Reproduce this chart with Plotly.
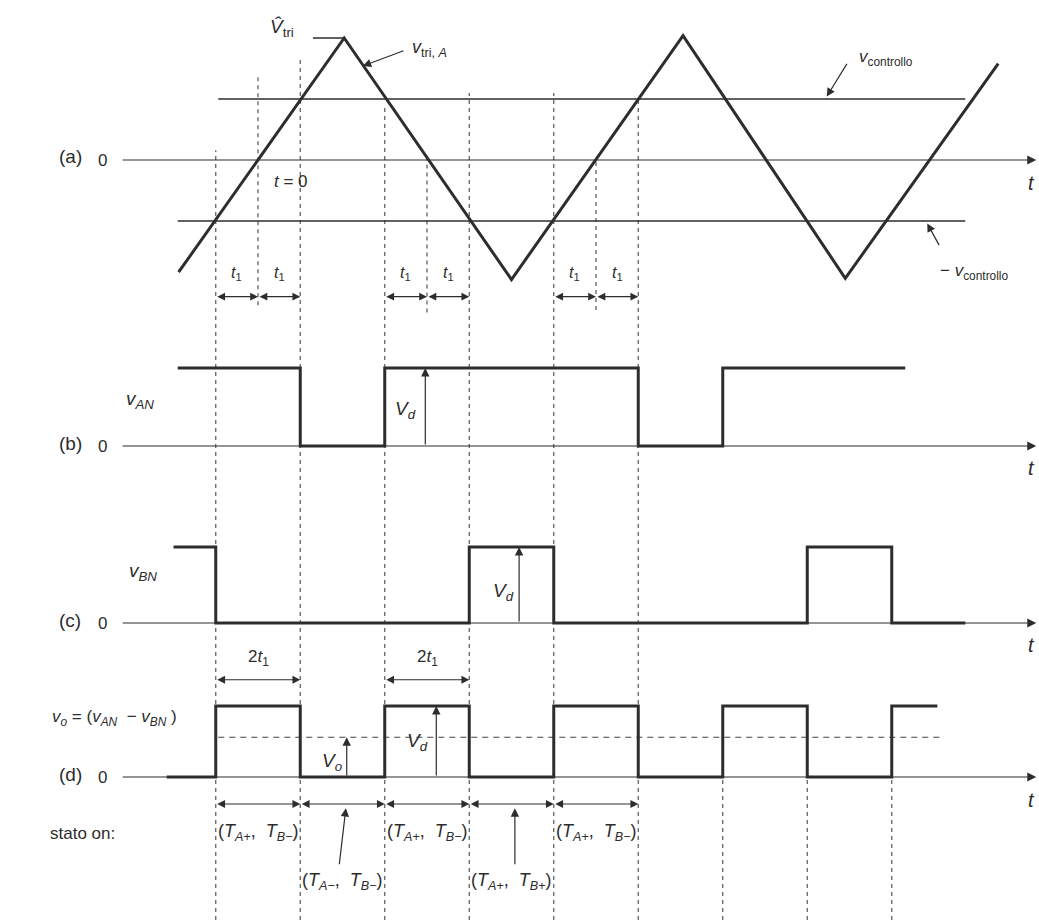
import plotly.graph_objects as go

# ---------------------------------------------------------------------------
# Data: time measured in quarter-periods of the triangular carrier (t = 0 at
# the rising zero crossing); voltages normalised to V_tri (a) and V_d (b-d).
# ---------------------------------------------------------------------------
tri_t = [-0.94, 1.02, 3.0, 5.03, 6.95, 8.76]
tri_v = [-0.92, 1.0, -0.98, 1.02, -0.97, 0.79]
v_control = 0.5
control_t = [-0.47, 8.37]          # span of +v_controllo line
neg_control_t = [-0.95, 8.37]      # span of -v_controllo line
vtri_peak_t = [0.65, 1.02]         # short marker at the peak value

t1 = 0.5
switch_t = [-0.5, 0.5, 1.5, 2.5, 3.5, 4.5, 5.5, 6.5, 7.5]

van_edges = [-0.95, 0.5, 1.5, 4.5, 5.5, 7.66]
van_levels = [1, 0, 1, 0, 1]
vbn_edges = [-1.0, -0.5, 2.5, 3.5, 6.5, 7.5, 8.37]
vbn_levels = [1, 0, 1, 0, 1, 0]
vo_edges = [-1.08, -0.5, 0.5, 1.5, 2.5, 3.5, 4.5, 5.5, 6.5, 7.5, 8.04]
vo_levels = [0, 1, 0, 1, 0, 1, 0, 1, 0, 1]
vo_mean = 0.56
vo_mean_t = [-0.47, 8.1]

state_upper = ["(<i>T</i><sub><i>A</i>+</sub>,  <i>T</i><sub><i>B</i>−</sub>)"] * 3
state_upper_t = [0.0, 2.0, 4.0]
state_lower = ["(<i>T</i><sub><i>A</i>−</sub>,  <i>T</i><sub><i>B</i>−</sub>)",
               "(<i>T</i><sub><i>A</i>+</sub>,  <i>T</i><sub><i>B</i>+</sub>)"]
state_lower_t = [1.0, 3.0]

# ---------------------------------------------------------------------------
# Layout geometry: four stacked panels sharing one time axis
# ---------------------------------------------------------------------------
W, H = 1039, 920
X_RANGE = [-258 / 84.5, (W - 258) / 84.5]
# (top px, bottom px, zero px, px per unit)
PANELS = {
    "y":  (0, 330, 160, 122),
    "y2": (330, 500, 446, 78),
    "y3": (500, 655, 623, 76),
    "y4": (655, 920, 777, 71),
}

def axis_cfg(key):
    top, bot, zero, unit = PANELS[key]
    return dict(domain=[1 - bot / H, 1 - top / H],
                range=[(zero - bot) / unit, (zero - top) / unit],
                visible=False, fixedrange=True, anchor="x")

def paper_y(key, value):
    top, bot, zero, unit = PANELS[key]
    return 1 - (zero - value * unit) / H

INK = "#2d2d2d"
FONT = "Liberation Sans, Arial, sans-serif"

fig = go.Figure()

def line(x, y, yaxis, width=1.3, color=INK, dash=None, shape="linear"):
    fig.add_trace(go.Scatter(x=x, y=y, xaxis="x", yaxis=yaxis, mode="lines",
                             line=dict(color=color, width=width, dash=dash, shape=shape),
                             hoverinfo="skip", showlegend=False))

def step(edges, levels, yaxis):
    line(edges, list(levels) + [levels[-1]], yaxis, width=3.0, shape="hv")

def arrow(x0, y0, x1, y1, yaxis, both=False, width=1.2, size=1.3):
    fig.add_annotation(x=x1, y=y1, ax=x0, ay=y0, xref="x", yref=yaxis,
                       axref="x", ayref=yaxis, text="", showarrow=True,
                       arrowhead=2, arrowsize=size, arrowwidth=width,
                       arrowcolor=INK, arrowside="end+start" if both else "end",
                       standoff=0, startstandoff=0)

def label(x, y, text, yaxis, size=16, xanchor="center"):
    fig.add_annotation(x=x, y=y, xref="x", yref=yaxis, text=text, showarrow=False,
                       font=dict(family=FONT, size=size, color=INK), xanchor=xanchor)

# ----- dashed switching instants (drawn first, underneath) -----
dash_lines = [
    (-0.5, ("y", 0.08), None), (0.0, ("y", 0.69), ("y", -1.19)),
    (0.5, ("y", 0.84), None), (1.5, ("y", 0.43), None),
    (2.0, ("y", 0.02), ("y", -1.25)), (2.5, ("y", 0.55), None),
    (3.5, ("y", 0.55), None), (4.0, ("y", 0.0), ("y", -1.23)),
    (4.5, ("y", 0.51), None), (5.5, ("y4", 0.0), None),
    (6.5, ("y4", 0.0), None), (7.5, ("y4", 0.0), None),
]
for t, top, bot in dash_lines:
    y1 = paper_y(*top)
    y0 = 0 if bot is None else paper_y(*bot)
    fig.add_shape(type="line", xref="x", yref="paper", x0=t, x1=t, y0=y0, y1=y1,
                  line=dict(color="#555555", width=1.2, dash="4px,4px"), layer="below")

# ----- panel (a): carrier and control levels -----
line(control_t, [v_control] * 2, "y", width=1.5)
line(neg_control_t, [-v_control] * 2, "y", width=1.5)
line(vtri_peak_t, [tri_v[1]] * 2, "y", width=1.5)
line(tri_t, tri_v, "y", width=3.0)

# ----- panels (b), (c), (d) -----
step(van_edges, van_levels, "y2")
step(vbn_edges, vbn_levels, "y3")
line(vo_mean_t, [vo_mean] * 2, "y4", width=1.2, color="#444444", dash="6px,5px")
step(vo_edges, vo_levels, "y4")

# ----- time axes with arrowheads -----
for key, tlab in [("y", -0.19), ("y2", -0.28), ("y3", -0.29), ("y4", -0.32)]:
    arrow(-1.62, 0, 9.21, 0, key, width=1.2, size=1.5)
    label(9.15, tlab, "<i>t</i>", key, size=20)

for key, name in [("y", "(a)"), ("y2", "(b)"), ("y3", "(c)"), ("y4", "(d)")]:
    label(-2.22, 0.03, name, key, size=19)
    label(-1.84, 0, "0", key, size=17)

# ----- annotations panel (a) -----
label(0.28, 1.08, "<i>V\u0302</i><sub>tri</sub>", "y", size=19)
label(1.80, 0.91, "<i>v</i><sub>tri, <i>A</i></sub>", "y", size=18, xanchor="left")
arrow(1.74, 0.90, 1.24, 0.77, "y", size=1.4)
label(7.43, 0.84, "<i>v</i><sub>controllo</sub>", "y", size=17)
arrow(6.98, 0.80, 6.73, 0.52, "y", size=1.4)
label(8.47, -0.92, "− <i>v</i><sub>controllo</sub>", "y", size=17)
arrow(8.07, -0.71, 7.92, -0.52, "y", size=1.4)
label(0.39, -0.18, "<i>t</i> = 0", "y", size=17)

t1_pairs = [(-0.5, 0.0), (0.0, 0.5), (1.5, 2.0), (2.0, 2.5), (3.5, 4.0), (4.0, 4.5)]
for a, b in t1_pairs:
    arrow(a, -1.12, b, -1.12, "y", both=True)
    label((a + b) / 2, -0.93, "<i>t</i><sub>1</sub>", "y", size=16)

# ----- annotations panel (b) -----
label(-1.40, 0.59, "<i>v<sub>AN</sub></i>", "y2", size=19)
arrow(1.98, 0, 1.98, van_levels[2], "y2", size=1.4)
label(1.74, 0.46, "<i>V<sub>d</sub></i>", "y2", size=19)

# ----- annotations panel (c) -----
label(-1.36, 0.67, "<i>v<sub>BN</sub></i>", "y3", size=19)
arrow(3.09, 0, 3.09, vbn_levels[2], "y3", size=1.4)
label(2.90, 0.41, "<i>V<sub>d</sub></i>", "y3", size=19)

# ----- annotations panel (d) -----
label(-1.70, 0.83, "<i>v<sub>o</sub></i> = (<i>v<sub>AN</sub></i>  − <i>v<sub>BN</sub></i> )", "y4", size=17)
arrow(1.05, 0, 1.05, vo_mean, "y4", size=1.4)
label(0.88, 0.21, "<i>V<sub>o</sub></i>", "y4", size=19)
arrow(2.11, 0, 2.11, vo_levels[3], "y4", size=1.4)
label(1.89, 0.49, "<i>V<sub>d</sub></i>", "y4", size=19)
for a, b in [(-0.5, 0.5), (1.5, 2.5)]:
    arrow(a, 1.37, b, 1.37, "y4", both=True)
    label((a + b) / 2, 1.68, "2<i>t</i><sub>1</sub>", "y4", size=17)

for a, b in zip(switch_t[:5], switch_t[1:6]):
    arrow(a, -0.38, b, -0.38, "y4", both=True)

label(-2.08, -0.8, "stato on:", "y4", size=17)
for t, txt in zip(state_upper_t, state_upper):
    label(t, -0.78, txt, "y4", size=18)
for t, txt in zip(state_lower_t, state_lower):
    label(t, -1.47, txt, "y4", size=18)
arrow(0.96, -1.25, 1.04, -0.44, "y4", size=1.4)
arrow(3.04, -1.25, 3.04, -0.44, "y4", size=1.4)

fig.update_layout(
    width=W, height=H,
    margin=dict(l=0, r=0, t=0, b=0),
    paper_bgcolor="white", plot_bgcolor="white",
    showlegend=False, hovermode=False,
    xaxis=dict(range=X_RANGE, domain=[0, 1], visible=False, fixedrange=True, anchor="y"),
    yaxis=axis_cfg("y"), yaxis2=axis_cfg("y2"),
    yaxis3=axis_cfg("y3"), yaxis4=axis_cfg("y4"),
)

fig.write_html("out.html")
